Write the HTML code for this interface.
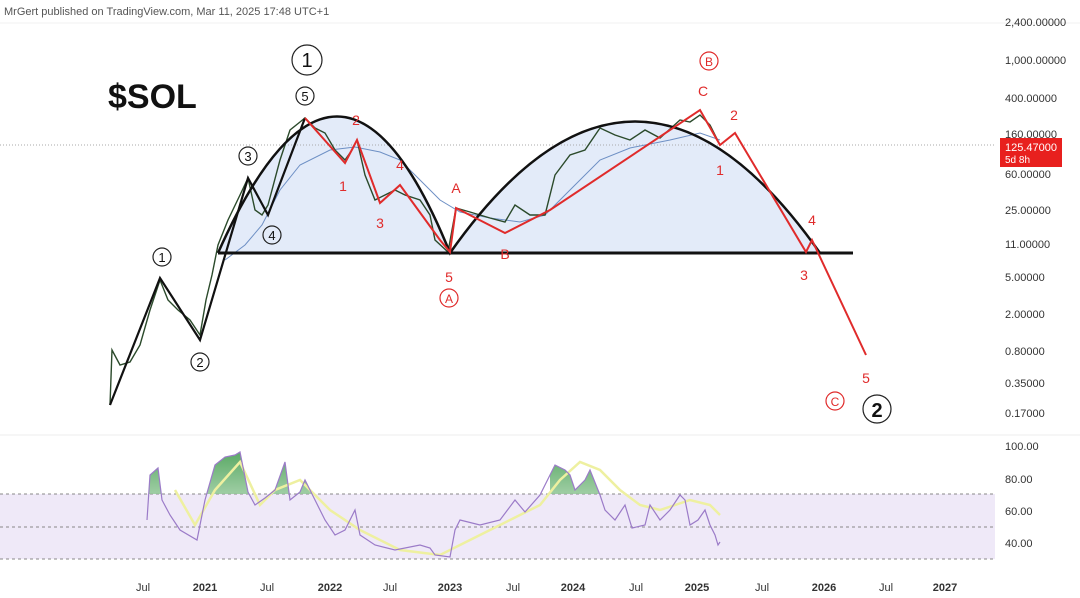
<!DOCTYPE html>
<html><head><meta charset="utf-8"><style>
html,body{margin:0;padding:0;background:#fff;}
svg{display:block;font-family:"Liberation Sans",sans-serif;}
</style></head><body>
<svg width="1080" height="598" viewBox="0 0 1080 598" xmlns="http://www.w3.org/2000/svg">
<defs>
<linearGradient id="g" x1="0" y1="0" x2="0" y2="1"><stop offset="0" stop-color="#3d9a4a"/><stop offset="1" stop-color="#e8f4e6"/></linearGradient>
<clipPath id="c"><rect x="0" y="440" width="1000" height="54"/></clipPath>
</defs>
<rect width="1080" height="598" fill="#fff"/>
<text x="4" y="15" font-size="11" fill="#555">MrGert published on TradingView.com, Mar 11, 2025 17:48 UTC+1</text>
<line x1="0" y1="23" x2="1080" y2="23" stroke="#f0f0f0"/>
<path d="M218,253 Q340,-20 450,253 Q635,-10 820,253 Z" fill="#e3ebf9"/>
<line x1="0" y1="145" x2="995" y2="145" stroke="#aaa" stroke-dasharray="1,2"/>
<polyline points="225,260 245,245 262,225 280,190 300,165 330,150 355,147 380,152 400,160 420,180 440,200 460,212 490,218 520,222 545,215 570,190 600,160 630,148 670,140 700,133 720,140" fill="none" stroke="#6d8fc4" stroke-width="1"/>
<polyline points="110,405 112,350 120,365 130,362 140,345 150,310 160,280 168,300 178,310 190,320 200,335 206,300 212,275 218,245 228,220 240,195 248,178 255,210 262,215 268,205 280,160 290,130 300,122 305,118 315,128 325,133 335,150 345,160 352,150 357,140 365,175 375,200 385,195 395,190 405,195 420,200 430,215 435,240 448,252 456,208 470,212 490,218 505,222 515,205 530,215 545,215 555,175 570,155 585,150 600,128 615,135 630,140 645,130 660,138 680,120 690,122 700,115 710,125 720,145" fill="none" stroke="#2b4a2b" stroke-width="1.4"/>
<polyline points="110,405 160,278 200,340 248,178 268,215 305,118" fill="none" stroke="#111" stroke-width="2.2"/>
<path d="M218,253 Q340,-20 450,253 Q635,-10 820,253" fill="none" stroke="#111" stroke-width="2.5"/>
<line x1="218" y1="253" x2="853" y2="253" stroke="#111" stroke-width="3"/>
<polyline points="305,118 345,163 357,140 380,203 400,185 440,240 450,252 456,208 505,233 550,210 700,110 720,145 735,133 806,252 812,240 866,355" fill="none" stroke="#e02b2b" stroke-width="2"/>
<text x="108" y="108" font-size="34" font-weight="bold" fill="#111">$SOL</text>
<g fill="none" stroke="#222" stroke-width="1.2">
<circle cx="307" cy="60" r="15"/><circle cx="305" cy="96" r="9"/><circle cx="248" cy="156" r="9"/><circle cx="272" cy="235" r="9"/><circle cx="162" cy="257" r="9"/><circle cx="200" cy="362" r="9"/><circle cx="877" cy="409" r="14"/>
</g>
<g fill="none" stroke="#e02b2b" stroke-width="1.2"><circle cx="449" cy="298" r="9"/><circle cx="709" cy="61" r="9"/><circle cx="835" cy="401" r="9"/></g>
<g font-size="13" fill="#111" text-anchor="middle">
<text x="307" y="67" font-size="20">1</text><text x="305" y="101">5</text><text x="248" y="161">3</text><text x="272" y="240">4</text><text x="162" y="262">1</text><text x="200" y="367">2</text><text x="877" y="417" font-size="20" font-weight="bold">2</text>
</g>
<g font-size="14" fill="#e02b2b" text-anchor="middle">
<text x="449" y="303" font-size="12">A</text><text x="709" y="66" font-size="12">B</text><text x="835" y="406" font-size="12">C</text>
<text x="356" y="125">2</text><text x="343" y="191">1</text><text x="380" y="228">3</text><text x="400" y="170">4</text><text x="456" y="193">A</text><text x="449" y="282">5</text><text x="505" y="259">B</text><text x="703" y="96">C</text><text x="734" y="120">2</text><text x="720" y="175">1</text><text x="812" y="225">4</text><text x="804" y="280">3</text><text x="866" y="383">5</text>
</g>
<g font-size="11" fill="#333">
<text x="1005" y="26">2,400.00000</text><text x="1005" y="64">1,000.00000</text><text x="1005" y="102">400.00000</text><text x="1005" y="138">160.00000</text><text x="1005" y="178">60.00000</text><text x="1005" y="214">25.00000</text><text x="1005" y="248">11.00000</text><text x="1005" y="281">5.00000</text><text x="1005" y="318">2.00000</text><text x="1005" y="355">0.80000</text><text x="1005" y="387">0.35000</text><text x="1005" y="417">0.17000</text>
</g>
<rect x="1000" y="138" width="62" height="29" fill="#e8201e"/>
<text x="1005" y="151" font-size="11" fill="#fff">125.47000</text><text x="1005" y="163" font-size="10" fill="#fff">5d 8h</text>
<line x1="0" y1="435" x2="1080" y2="435" stroke="#eee"/>
<rect x="0" y="494" width="995" height="65" fill="#efe9f8"/>
<g stroke="#888" stroke-dasharray="3,3"><line x1="0" y1="494" x2="995" y2="494"/><line x1="0" y1="527" x2="995" y2="527"/><line x1="0" y1="559" x2="995" y2="559"/></g>
<polygon clip-path="url(#c)" fill="url(#g)" opacity="0.85" points="147,520 150,475 158,468 162,500 170,515 180,530 197,540 205,500 215,465 225,457 235,455 240,452 248,492 255,505 265,498 275,490 285,462 290,500 300,492 305,480 315,500 325,520 335,535 550,494 550,475 555,465 565,470 570,475 575,490 585,480 590,470 600,495 600,494 147,494"/>
<polyline points="175,490 195,525 215,490 240,462 260,505 275,490 300,480 330,510 360,530 400,550 440,555 470,540 500,525 540,505 560,480 580,462 600,470 620,490 640,505 660,510 690,500 710,505 720,515" fill="none" stroke="#eef0a0" stroke-width="2.5"/>
<polyline points="147,520 150,475 158,468 162,500 170,515 180,530 197,540 205,500 215,465 225,457 235,455 240,452 248,492 255,505 265,498 275,490 285,462 290,500 300,492 305,480 315,500 325,520 335,535 345,530 355,510 360,535 375,545 395,550 420,545 430,548 435,555 450,557 455,530 460,520 480,525 500,520 515,500 525,512 540,495 550,475 555,465 565,470 570,475 575,490 585,480 590,470 600,495 605,510 615,520 625,505 632,528 645,525 650,505 660,520 670,510 680,495 685,500 690,525 698,520 705,510 710,525 715,535 718,545 720,542" fill="none" stroke="#9b7bc8" stroke-width="1.2"/>
<g font-size="11" fill="#333"><text x="1005" y="450">100.00</text><text x="1005" y="483">80.00</text><text x="1005" y="515">60.00</text><text x="1005" y="547">40.00</text></g>
<g font-size="11" fill="#333" text-anchor="middle">
<text x="143" y="591">Jul</text><text x="205" y="591" font-weight="bold">2021</text><text x="267" y="591">Jul</text><text x="330" y="591" font-weight="bold">2022</text><text x="390" y="591">Jul</text><text x="450" y="591" font-weight="bold">2023</text><text x="513" y="591">Jul</text><text x="573" y="591" font-weight="bold">2024</text><text x="636" y="591">Jul</text><text x="697" y="591" font-weight="bold">2025</text><text x="762" y="591">Jul</text><text x="824" y="591" font-weight="bold">2026</text><text x="886" y="591">Jul</text><text x="945" y="591" font-weight="bold">2027</text>
</g>
</svg>
</body></html>
